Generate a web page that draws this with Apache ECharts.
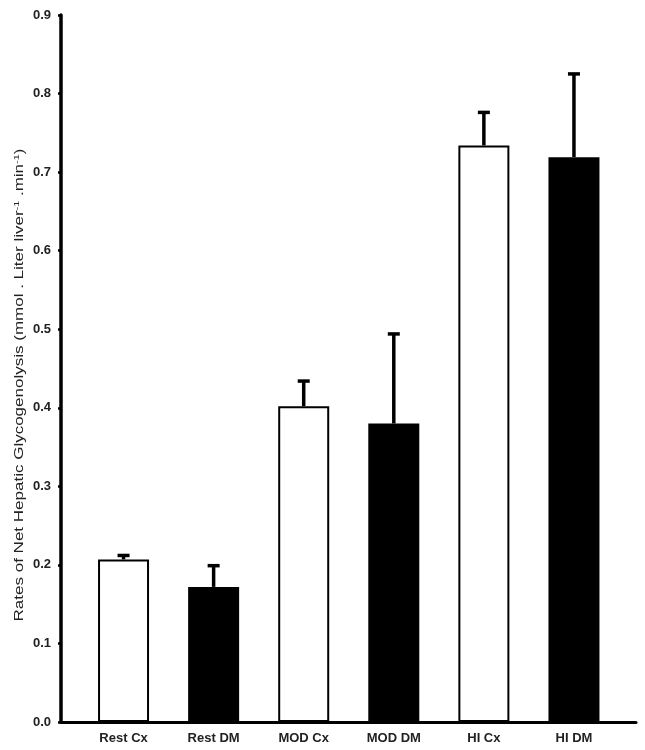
<!DOCTYPE html>
<html>
<head>
<meta charset="utf-8">
<script src="https://cdn.jsdelivr.net/npm/echarts@6/dist/echarts.min.js"></script>
<style>html,body{margin:0;padding:0;background:#fff;}#c{width:645px;height:750px;}</style>
</head>
<body>
<div id="c"></div>
<script>
const categories = ['Rest Cx', 'Rest DM', 'MOD Cx', 'MOD DM', 'HI Cx', 'HI DM'];
const means = [0.207, 0.172, 0.402, 0.380, 0.734, 0.719];
const errors = [0.005, 0.027, 0.032, 0.114, 0.042, 0.106];
const fills = ['white', 'black', 'white', 'black', 'white', 'black'];
const yTitle = 'Rates of Net Hepatic Glycogenolysis (mmol . Liter liver{sup|-1} .min{sup|-1})';

const FONT = '"Liberation Sans", Arial, sans-serif';
const chart = echarts.init(document.getElementById('c'), null, {renderer: 'canvas'});

const barData = means.map((v, i) => ({
  value: v,
  itemStyle: fills[i] === 'white'
    ? {color: '#ffffff', borderColor: '#000', borderWidth: 2}
    : {color: '#000000', borderColor: '#000', borderWidth: 0}
}));
const errData = means.map((v, i) => [i, v, v + errors[i]]);

chart.setOption({
  animation: false,
  backgroundColor: '#fff',
  grid: [
    {left: 61, right: 9, top: 15, bottom: 28},
    {left: 78.5, right: 26, top: 15, bottom: 28}
  ],
  graphic: [{
    type: 'text', x: 20, y: 385, rotation: Math.PI / 2, scaleX: 1.36, scaleY: 1,
    style: {
      text: yTitle, font: '12.5px ' + FONT, fill: '#222',
      align: 'center', verticalAlign: 'middle',
      rich: {sup: {fontSize: 8, fontFamily: FONT, fill: '#222', verticalAlign: 'top', padding: [0, 0, 6, 0]}}
    }
  }],
  xAxis: [
    {gridIndex: 0, type: 'value', min: 0, max: 1,
     axisLine: {show: true, onZero: false, lineStyle: {color: '#000', width: 3}},
     axisTick: {show: false}, axisLabel: {show: false}, splitLine: {show: false}},
    {gridIndex: 1, type: 'category', data: categories,
     axisLine: {show: false}, axisTick: {show: false},
     axisLabel: {color: '#222', fontFamily: FONT, fontWeight: 'bold', fontSize: 13, margin: 10}}
  ],
  yAxis: [
    {gridIndex: 0, type: 'value', min: 0, max: 0.9, interval: 0.1,
     axisLine: {show: true, lineStyle: {color: '#000', width: 3.5}},
     axisTick: {show: true, length: 3, lineStyle: {color: '#000', width: 2.5}},
     axisLabel: {color: '#222', fontFamily: FONT, fontWeight: 'bold', fontSize: 13, margin: 10,
                 formatter: v => v.toFixed(1)},
     splitLine: {show: false}
    },
    {gridIndex: 1, type: 'value', min: 0, max: 0.9, interval: 0.1, show: false}
  ],
  series: [
    {type: 'bar', xAxisIndex: 1, yAxisIndex: 1, barWidth: 51, data: barData, z: 2},
    {type: 'custom', xAxisIndex: 1, yAxisIndex: 1, data: errData, z: 3,
     renderItem: function (params, api) {
       const x = api.value(0);
       const lo = api.coord([x, api.value(1)]);
       const hi = api.coord([x, api.value(2)]);
       const half = 6;
       return {type: 'group', children: [
         {type: 'line', shape: {x1: lo[0], y1: lo[1], x2: hi[0], y2: hi[1]},
          style: {stroke: '#000', lineWidth: 3.5}},
         {type: 'line', shape: {x1: hi[0] - half, y1: hi[1], x2: hi[0] + half, y2: hi[1]},
          style: {stroke: '#000', lineWidth: 3.5}}
       ]};
     }}
  ]
});
</script>
</body>
</html>
